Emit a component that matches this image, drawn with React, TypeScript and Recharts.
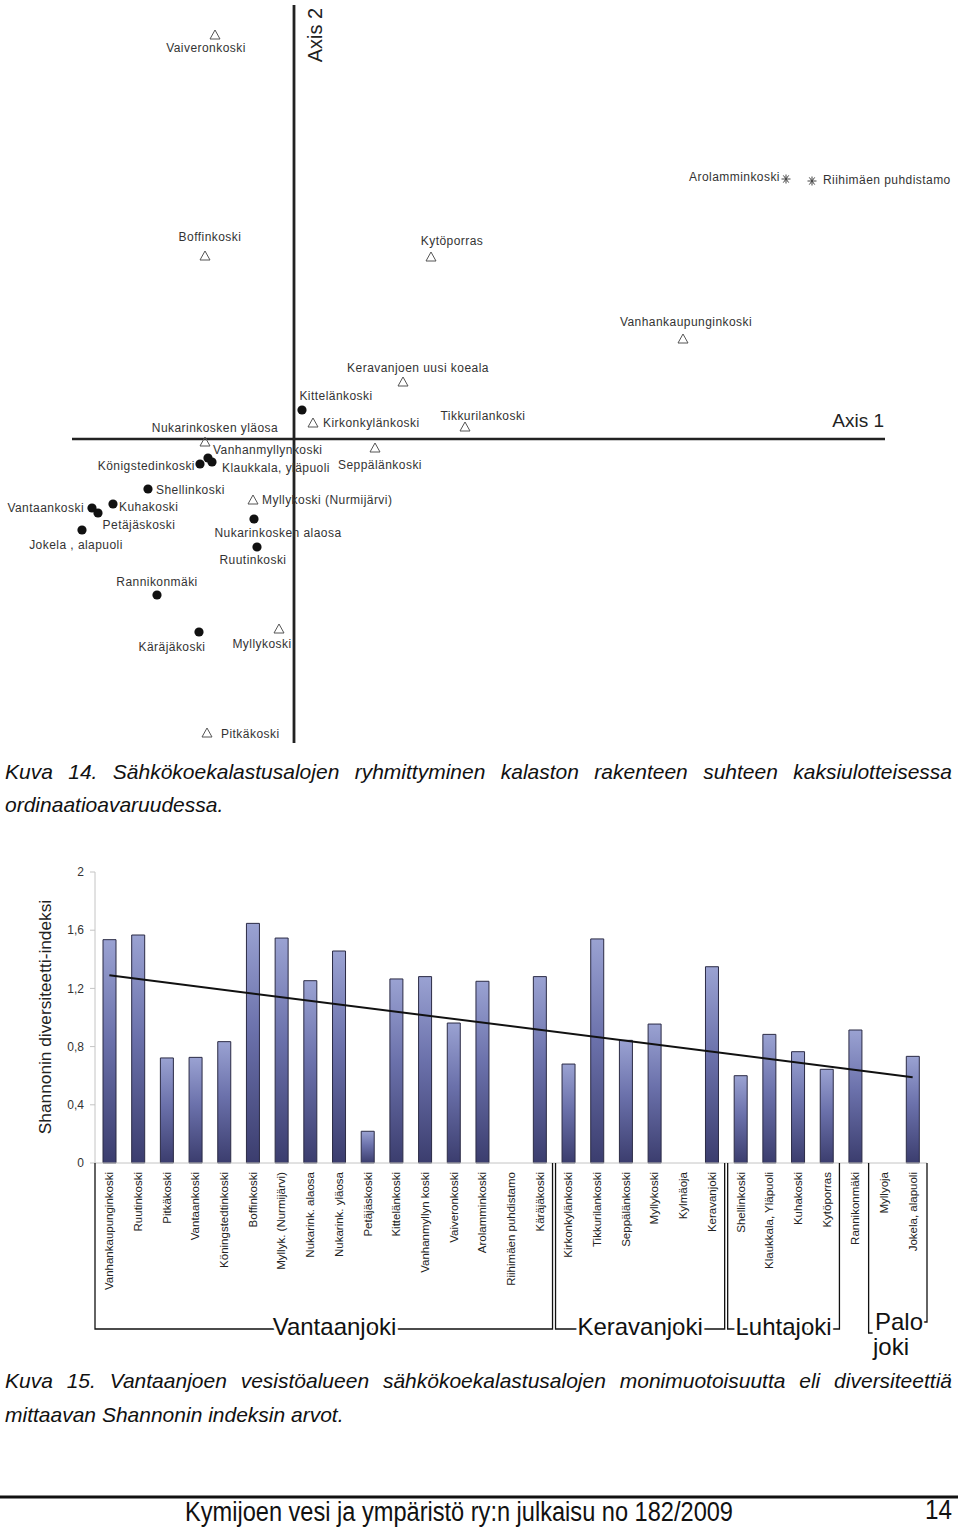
import React from 'react'
import { ScatterChart, Scatter, BarChart, Bar, XAxis, YAxis, ReferenceLine } from 'recharts'

// ── Fonts / colours ───────────────────────────────────────────────────────────

const FONT = "'Liberation Sans', Arial, Helvetica, sans-serif"
const INK = '#222'
const LABEL_INK = '#333'

// ── Kuva 14: ordination scores (Axis 1, Axis 2) ───────────────────────────────

const TRIANGLE_SITES = [
  { name: 'Vaiveronkoski', x: -0.79, y: 4.04 },
  { name: 'Boffinkoski', x: -0.89, y: 1.83 },
  { name: 'Kytöporras', x: 1.37, y: 1.82 },
  { name: 'Vanhankaupunginkoski', x: 3.89, y: 1.0 },
  { name: 'Keravanjoen uusi koeala', x: 1.09, y: 0.57 },
  { name: 'Kirkonkylänkoski', x: 0.19, y: 0.16 },
  { name: 'Tikkurilankoski', x: 1.71, y: 0.12 },
  { name: 'Nukarinkosken yläosa', x: -0.89, y: -0.03 },
  { name: 'Seppälänkoski', x: 0.81, y: -0.09 },
  { name: 'Myllykoski (Nurmijärvi)', x: -0.41, y: -0.61 },
  { name: 'Myllykoski', x: -0.15, y: -1.9 },
  { name: 'Pitkäkoski', x: -0.87, y: -2.94 },
]

const STAR_SITES = [
  { name: 'Arolamminkoski', x: 4.92, y: 2.6 },
  { name: 'Riihimäen puhdistamo', x: 5.18, y: 2.58 },
]

const CIRCLE_SITES = [
  { name: 'Kittelänkoski', x: 0.08, y: 0.29 },
  { name: 'Vanhanmyllynkoski', x: -0.86, y: -0.19 },
  { name: 'Klaukkala, yläpuoli', x: -0.82, y: -0.23 },
  { name: 'Königstedinkoski', x: -0.94, y: -0.25 },
  { name: 'Shellinkoski', x: -1.46, y: -0.5 },
  { name: 'Vantaankoski', x: -2.02, y: -0.69 },
  { name: 'Petäjäskoski', x: -1.96, y: -0.74 },
  { name: 'Kuhakoski', x: -1.81, y: -0.65 },
  { name: 'Jokela , alapuoli', x: -2.12, y: -0.91 },
  { name: 'Nukarinkosken alaosa', x: -0.4, y: -0.8 },
  { name: 'Ruutinkoski', x: -0.37, y: -1.08 },
  { name: 'Rannikonmäki', x: -1.37, y: -1.56 },
  { name: 'Käräjäkoski', x: -0.95, y: -1.93 },
]

// where each site name sits relative to its marker: [anchor, dx, dy]
const LABEL_POS: Record<string, ['start' | 'middle' | 'end', number, number]> = {
  Vaiveronkoski: ['middle', -9, 13],
  Boffinkoski: ['middle', 5, -19],
  'Kytöporras': ['middle', 21, -16],
  Vanhankaupunginkoski: ['middle', 3, -17],
  'Keravanjoen uusi koeala': ['middle', 15, -14],
  'Kirkonkylänkoski': ['start', 10, 0],
  Tikkurilankoski: ['middle', 18, -11],
  'Nukarinkosken yläosa': ['middle', 10, -14],
  'Seppälänkoski': ['middle', 5, 17],
  'Myllykoski (Nurmijärvi)': ['start', 9, 0],
  Myllykoski: ['middle', -17, 15],
  'Pitkäkoski': ['start', 14, 1],
  Arolamminkoski: ['end', -6, -2],
  'Riihimäen puhdistamo': ['start', 11, -1],
  'Kittelänkoski': ['middle', 34, -14],
  Vanhanmyllynkoski: ['start', 5, -8],
  'Klaukkala, yläpuoli': ['start', 10, 6],
  'Königstedinkoski': ['end', -5, 2],
  Shellinkoski: ['start', 8, 1],
  Vantaankoski: ['end', -8, 0],
  'Petäjäskoski': ['middle', 41, 12],
  Kuhakoski: ['start', 6, 3],
  'Jokela , alapuoli': ['middle', -6, 15],
  'Nukarinkosken alaosa': ['middle', 24, 14],
  Ruutinkoski: ['middle', -4, 13],
  'Rannikonmäki': ['middle', 0, -13],
  'Käräjäkoski': ['middle', -27, 15],
}

// ── Kuva 15: Shannon index per site ───────────────────────────────────────────

const CATEGORIES = [
  'Vanhankaupunginkoski', 'Ruutinkoski', 'Pitkäkoski', 'Vantaankoski', 'Köningstedtinkoski',
  'Boffinkoski', 'Myllyk. (Nurmijärvi)', 'Nukarink. alaosa', 'Nukarink. yläosa', 'Petäjäskoski',
  'Kittelänkoski', 'Vanhanmyllyn koski', 'Vaiveronkoski', 'Arolamminkoski', 'Riihimäen puhdistamo',
  'Käräjäkoski', 'Kirkonkylänkoski', 'Tikkurilankoski', 'Seppälänkoski', 'Myllykoski',
  'Kylmäoja', 'Keravanjoki', 'Shellinkoski', 'Klaukkala, Yläpuoli', 'Kuhakoski',
  'Kytöporras', 'Rannikonmäki', 'Myllyoja', 'Jokela, alapuoli',
]

const SHANNON = [
  1.535, 1.567, 0.722, 0.726, 0.834,
  1.647, 1.546, 1.253, 1.457, 0.218,
  1.265, 1.281, 0.962, 1.249, null,
  1.281, 0.68, 1.54, 0.843, 0.955,
  null, 1.349, 0.6, 0.884, 0.765,
  0.644, 0.914, null, 0.733,
]

const Y_TICKS = [0, 0.4, 0.8, 1.2, 1.6, 2]

// linear trend, read at first and last site
const TREND_START = 1.29
const TREND_END = 0.59

// river groups: first and last category index
const RIVER_GROUPS = [
  { label: 'Vantaanjoki', start: 0, end: 15 },
  { label: 'Keravanjoki', start: 16, end: 21 },
  { label: 'Luhtajoki', start: 22, end: 25 },
]

const barData = CATEGORIES.map((name, i) => ({ name, value: SHANNON[i] }))

// ── bar chart geometry ────────────────────────────────────────────────────────

const BAR_TOP = 860
const PLOT_LEFT = 95
const PLOT_RIGHT = 927
const AXIS_Y = 1163
const BAND = (PLOT_RIGHT - PLOT_LEFT) / CATEGORIES.length
const edge = (i: number) => PLOT_LEFT + i * BAND

// ── markers ───────────────────────────────────────────────────────────────────

function SiteLabel({ cx, cy, name }: { cx: number; cy: number; name: string }) {
  const [anchor, dx, dy] = LABEL_POS[name] ?? ['start', 8, 0]
  return (
    <text
      x={cx + dx}
      y={cy + dy}
      textAnchor={anchor}
      dominantBaseline="central"
      fontSize={12}
      letterSpacing={0.45}
      fill={LABEL_INK}
      fontFamily={FONT}
    >
      {name}
    </text>
  )
}

function TriangleShape(props: any) {
  const { cx, cy, payload } = props
  return (
    <g>
      <polygon
        points={`${cx},${cy - 5} ${cx - 5},${cy + 4} ${cx + 5},${cy + 4}`}
        fill="none"
        stroke="#555"
        strokeWidth={1}
      />
      <SiteLabel cx={cx} cy={cy} name={payload.name} />
    </g>
  )
}

function CircleShape(props: any) {
  const { cx, cy, payload } = props
  return (
    <g>
      <circle cx={cx} cy={cy} r={4.6} fill="#111" />
      <SiteLabel cx={cx} cy={cy} name={payload.name} />
    </g>
  )
}

function StarShape(props: any) {
  const { cx, cy, payload } = props
  const r = 4.5
  return (
    <g stroke="#444" strokeWidth={1}>
      <line x1={cx - r} y1={cy} x2={cx + r} y2={cy} />
      <line x1={cx - r * 0.6} y1={cy - r * 0.8} x2={cx + r * 0.6} y2={cy + r * 0.8} />
      <line x1={cx - r * 0.6} y1={cy + r * 0.8} x2={cx + r * 0.6} y2={cy - r * 0.8} />
      <line x1={cx} y1={cy - r} x2={cx} y2={cy + r} />
      <g stroke="none">
        <SiteLabel cx={cx} cy={cy} name={payload.name} />
      </g>
    </g>
  )
}

function XTick({ x, y, payload }: any) {
  const ty = y + 1
  return (
    <text
      x={x}
      y={ty}
      transform={`rotate(-90 ${x} ${ty})`}
      textAnchor="end"
      dominantBaseline="central"
      fontSize={11.5}
      fill={INK}
      fontFamily={FONT}
    >
      {payload.value}
    </text>
  )
}

// ── page ──────────────────────────────────────────────────────────────────────

export default function App() {
  return (
    <div
      style={{
        position: 'absolute',
        top: 0,
        left: 0,
        width: 960,
        height: 1527,
        background: '#fff',
        fontFamily: FONT,
        color: '#111',
        overflow: 'hidden',
      }}
    >
      {/* Kuva 14 – ordination */}
      <div style={{ position: 'absolute', top: 0, left: 0 }}>
        <ScatterChart width={960} height={750} margin={{ top: 0, right: 0, bottom: 0, left: 0 }}>
          <XAxis type="number" dataKey="x" domain={[-2.94, 6.66]} hide allowDataOverflow />
          <YAxis type="number" dataKey="y" domain={[-3.11, 4.39]} hide allowDataOverflow />
          <ReferenceLine
            segment={[{ x: -2.22, y: 0 }, { x: 5.91, y: 0 }]}
            stroke={INK}
            strokeWidth={2.5}
          />
          <ReferenceLine
            segment={[{ x: 0, y: 4.34 }, { x: 0, y: -3.04 }]}
            stroke={INK}
            strokeWidth={2.8}
          />
          <Scatter data={TRIANGLE_SITES} shape={TriangleShape} isAnimationActive={false} />
          <Scatter data={STAR_SITES} shape={StarShape} isAnimationActive={false} />
          <Scatter data={CIRCLE_SITES} shape={CircleShape} isAnimationActive={false} />
        </ScatterChart>
      </div>

      {/* Kuva 15 – Shannon index */}
      <div style={{ position: 'absolute', top: BAR_TOP, left: 0 }}>
        <BarChart
          width={960}
          height={440}
          data={barData}
          margin={{ top: 12, right: 960 - PLOT_RIGHT, bottom: 0, left: PLOT_LEFT - 60 }}
        >
          <defs>
            <linearGradient id="barGrad" x1="0" y1="0" x2="0" y2="1">
              <stop offset="0%" stopColor="#9aa2d2" />
              <stop offset="45%" stopColor="#6b71ab" />
              <stop offset="100%" stopColor="#3b3d6e" />
            </linearGradient>
          </defs>
          <XAxis
            dataKey="name"
            interval={0}
            height={137}
            tick={<XTick />}
            tickLine={false}
            axisLine={{ stroke: '#c4c4c4' }}
          />
          <YAxis
            width={60}
            domain={[0, 2]}
            ticks={Y_TICKS}
            tickFormatter={(v) => String(v).replace('.', ',')}
            tick={{ fontSize: 12, fill: LABEL_INK, fontFamily: FONT }}
            tickLine={{ stroke: '#c4c4c4' }}
            tickSize={5}
            tickMargin={6}
            axisLine={{ stroke: '#c4c4c4' }}
          />
          <Bar
            dataKey="value"
            barSize={13}
            fill="url(#barGrad)"
            stroke="#2b2b45"
            strokeWidth={1}
            isAnimationActive={false}
          />
          <ReferenceLine
            segment={[
              { x: CATEGORIES[0], y: TREND_START },
              { x: CATEGORIES[CATEGORIES.length - 1], y: TREND_END },
            ]}
            stroke="#111"
            strokeWidth={2}
          />
        </BarChart>
      </div>

      {/* annotations */}
      <svg
        width={960}
        height={1527}
        style={{ position: 'absolute', top: 0, left: 0, pointerEvents: 'none' }}
        fontFamily={FONT}
      >
        <text x={315} y={35} transform="rotate(-90 315 35)" textAnchor="middle" dominantBaseline="central" fontSize={20} fill={INK}>
          Axis 2
        </text>
        <text x={884} y={420} textAnchor="end" dominantBaseline="central" fontSize={19} fill={INK}>
          Axis 1
        </text>

        <text x={45} y={1017} transform="rotate(-90 45 1017)" textAnchor="middle" dominantBaseline="central" fontSize={17.3} fill={INK}>
          Shannonin diversiteetti-indeksi
        </text>

        {/* river brackets */}
        <g stroke="#111" strokeWidth={1.3} fill="none">
          {RIVER_GROUPS.map((g) => {
            const l = g.start === 0 ? PLOT_LEFT : edge(g.start) + 1.5
            const r = edge(g.end + 1) - 1.5
            const yb = 1329
            return <polyline key={g.label} points={`${l},${AXIS_Y} ${l},${yb} ${r},${yb} ${r},${AXIS_Y}`} />
          })}
          <polyline points={`${edge(27) - 1},${AXIS_Y} ${edge(27) - 1},${1333} ${edge(27) + 3},${1333}`} />
          <polyline points={`${PLOT_RIGHT},${AXIS_Y} ${PLOT_RIGHT},${1322} ${PLOT_RIGHT - 5},${1322}`} />
        </g>
        {RIVER_GROUPS.map((g) => {
          const l = g.start === 0 ? PLOT_LEFT : edge(g.start)
          const r = edge(g.end + 1)
          return (
            <text
              key={g.label}
              x={(l + r) / 2 + (g.start === 0 ? 10 : 0)}
              y={1335}
              textAnchor="middle"
              fontSize={24}
              fill="#111"
              stroke="#fff"
              strokeWidth={6}
              paintOrder="stroke"
            >
              {g.label}
            </text>
          )
        })}
        <text x={899} y={1330} textAnchor="middle" fontSize={24} fill="#111" stroke="#fff" strokeWidth={4} paintOrder="stroke">Palo</text>
        <text x={891} y={1355} textAnchor="middle" fontSize={24} fill="#111">joki</text>

        {/* footer */}
        <line x1={0} y1={1497} x2={958} y2={1497} stroke="#111" strokeWidth={3} />
        <text x={185} y={1521} fontSize={27} fill="#111" textLength={548} lengthAdjust="spacingAndGlyphs">
          Kymijoen vesi ja ympäristö ry:n julkaisu no 182/2009
        </text>
        <text x={952} y={1519} textAnchor="end" fontSize={27} fill="#111" textLength={27} lengthAdjust="spacingAndGlyphs">
          14
        </text>
      </svg>

      {/* captions */}
      <div
        style={{
          position: 'absolute',
          top: 755,
          left: 5,
          width: 947,
          fontSize: 21,
          lineHeight: '33px',
          fontStyle: 'italic',
          textAlign: 'justify',
          color: '#111',
        }}
      >
        Kuva 14. Sähkökoekalastusalojen ryhmittyminen kalaston rakenteen suhteen kaksiulotteisessa
        ordinaatioavaruudessa.
      </div>
      <div
        style={{
          position: 'absolute',
          top: 1364,
          left: 5,
          width: 947,
          fontSize: 21,
          lineHeight: '34px',
          fontStyle: 'italic',
          textAlign: 'justify',
          color: '#111',
        }}
      >
        Kuva 15. Vantaanjoen vesistöalueen sähkökoekalastusalojen monimuotoisuutta eli diversiteettiä
        mittaavan Shannonin indeksin arvot.
      </div>
    </div>
  )
}
